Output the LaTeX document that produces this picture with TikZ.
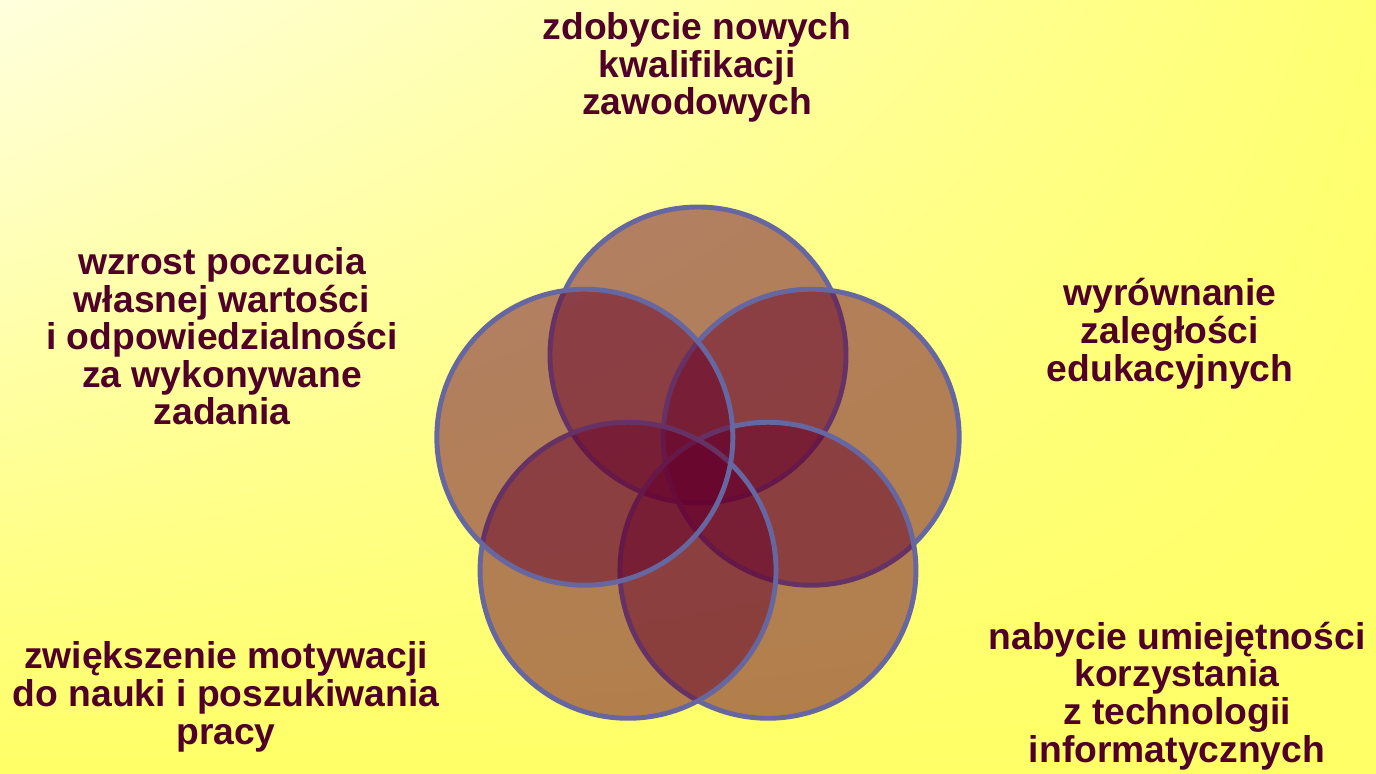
\documentclass[tikz,border=0pt]{standalone}
\usepackage{fontspec}
\setmainfont{Liberation Sans}
\usetikzlibrary{shadings}
\definecolor{bgpale}{RGB}{255,255,222}
\definecolor{bgmid}{RGB}{255,255,114}
\definecolor{bgyellow}{RGB}{255,255,102}
\definecolor{ringfill}{RGB}{102,0,45}
\definecolor{ringline}{RGB}{102,102,160}
\definecolor{txtmaroon}{RGB}{80,0,40}
\tikzset{
  ring/.style={fill=ringfill, fill opacity=0.5, draw=ringline, draw opacity=1, line width=1.4pt},
  goal/.style={align=center, inner sep=0pt, anchor=base, text=txtmaroon,
    font=\fontsize{10.6pt}{10.7pt}\selectfont\bfseries}
}
\begin{document}
\begin{tikzpicture}
\useasboundingbox (0,0) rectangle (13.76,7.73);
\shade[upper left=bgpale, upper right=bgmid, lower left=bgyellow, lower right=bgyellow]
  (0,0) rectangle (13.76,7.73);
% five rings round the middle
\begin{scope}[shift={(6.98,2.99)}]
\filldraw[ring] (90:1.19) circle (1.48);
\filldraw[ring] (18:1.19) circle (1.48);
\filldraw[ring] (-54:1.19) circle (1.48);
\filldraw[ring] (-126:1.19) circle (1.48);
\filldraw[ring] (162:1.19) circle (1.48);
\end{scope}
% labels (base = last line)
\node[goal] (kwalifikacje) at (6.97,6.58) {zdobycie nowych\\kwalifikacji\\zawodowych};
\node[goal] (zaleglosci) at (11.70,3.92) {wyrównanie\\zaległości\\edukacyjnych};
\node[goal] (technologie) at (11.77,0.11) {nabycie umiejętności\\korzystania\\z technologii\\informatycznych};
\node[goal] (motywacja) at (2.26,0.29) {zwiększenie motywacji\\do nauki i poszukiwania\\pracy};
\node[goal] (wartosc) at (2.22,3.48) {wzrost poczucia\\własnej wartości\\i odpowiedzialności\\za wykonywane\\zadania};
\end{tikzpicture}
\end{document}
